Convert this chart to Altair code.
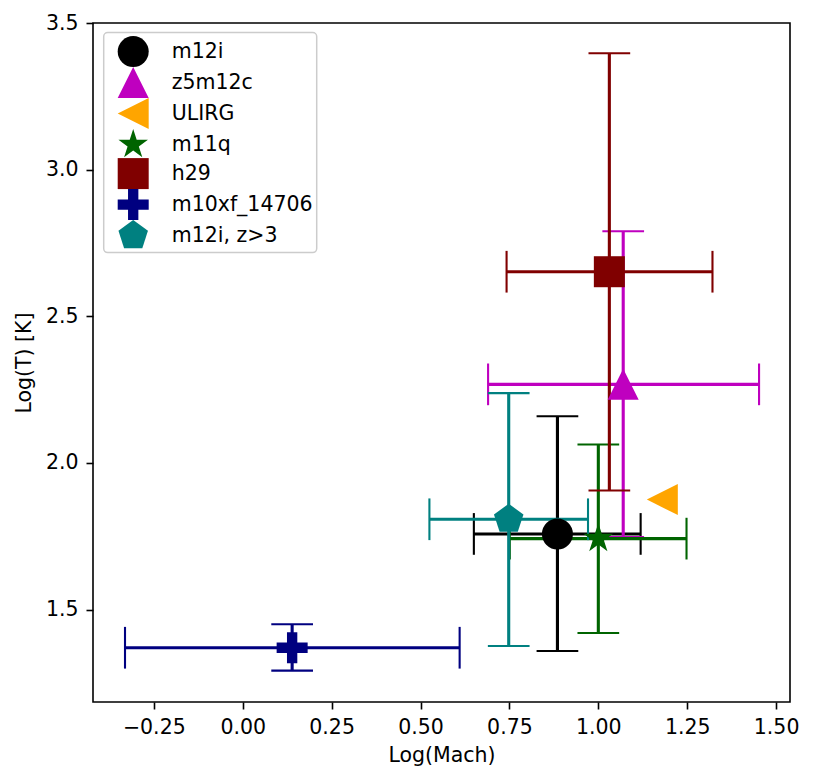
import altair as alt
import pandas as pd

# Simulation runs: Mach number vs. gas temperature (log10), with 1-sigma spreads
names = ["m12i", "z5m12c", "ULIRG", "m11q", "h29", "m10xf_14706", "m12i, z>3"]
colors = ["black", "#bf00bf", "orange", "darkgreen", "maroon", "navy", "teal"]
log_mach = [0.885, 1.070, 1.180, 1.000, 1.031, 0.139, 0.748]
log_temp = [1.758, 2.268, 1.875, 1.742, 2.652, 1.370, 1.808]
mach_lo = [0.650, 0.690, None, 0.751, 0.742, -0.331, 0.525]
mach_hi = [1.119, 1.452, None, 1.248, 1.321, 0.610, 0.971]
temp_lo = [1.359, 1.747, None, 1.420, 1.906, 1.292, 1.376]
temp_hi = [2.159, 2.790, None, 2.063, 3.397, 1.450, 2.238]

x_ticks = [-0.25, 0.0, 0.25, 0.5, 0.75, 1.0, 1.25, 1.5]
y_ticks = [1.5, 2.0, 2.5, 3.0, 3.5]

# marker outlines in unit coordinates (matplotlib-style o ^ < * s P p)
STAR = ("M0,-1L-0.2245,-0.309L-0.9511,-0.309L-0.3633,0.118L-0.5878,0.809"
        "L0,0.382L0.5878,0.809L0.3633,0.118L0.9511,-0.309L0.2245,-0.309Z")
PENTAGON = "M0,-1L-0.9511,-0.309L-0.5878,0.809L0.5878,0.809L0.9511,-0.309Z"
PLUS = ("M-0.3333,-1L0.3333,-1L0.3333,-0.3333L1,-0.3333L1,0.3333L0.3333,0.3333"
        "L0.3333,1L-0.3333,1L-0.3333,0.3333L-1,0.3333L-1,-0.3333L-0.3333,-0.3333Z")
shapes = ["circle", "M0,-1L1,1L-1,1Z", "M-1,0L1,-1L1,1Z", STAR, "square", PLUS, PENTAGON]

FONT = "DejaVu Sans"
FS = 20.5
MARKER = 961      # px^2 -> ~31 px markers
LINE_W = 3.1
CAP_W = 2.1
CAP_LEN = 41.7

xs = alt.Scale(domain=[-0.421, 1.539], nice=False, zero=False)
ys = alt.Scale(domain=[1.185, 3.5], nice=False, zero=False)

x_axis = alt.Axis(
    values=x_ticks, format=".2f", title="Log(Mach)", grid=False, domain=False,
    tickSize=7, tickWidth=1.6, tickColor="black", labelPadding=8,
    labelFlush=False, labelOverlap=False,
    titleBaseline="alphabetic", titleY=59.5, titleX=348.5,
)
y_axis = alt.Axis(
    values=y_ticks, format=".1f", title="Log(T) [K]", grid=False, domain=False,
    tickSize=7, tickWidth=1.6, tickColor="black", labelPadding=8,
    labelFlush=False, labelOverlap=False,
    titleAngle=270, titleBaseline="alphabetic", titleAlign="center",
    titleX=-62.8, titleY=339.5,
)

layers = []
for i, name in enumerate(names):
    if mach_lo[i] is None:
        continue
    # horizontal and vertical error segments
    seg = pd.DataFrame({
        "x0": [mach_lo[i], log_mach[i]],
        "x1": [mach_hi[i], log_mach[i]],
        "y0": [log_temp[i], temp_lo[i]],
        "y1": [log_temp[i], temp_hi[i]],
    })
    layers.append(
        alt.Chart(seg).mark_rule(color=colors[i], strokeWidth=LINE_W).encode(
            x=alt.X("x0:Q", scale=xs, axis=x_axis),
            x2="x1:Q",
            y=alt.Y("y0:Q", scale=ys, axis=y_axis),
            y2="y1:Q",
        )
    )
    # caps at the ends of the x spread (vertical ticks)
    xcap = pd.DataFrame({"x": [mach_lo[i], mach_hi[i]], "y": [log_temp[i]] * 2})
    layers.append(
        alt.Chart(xcap).mark_tick(
            orient="vertical", size=CAP_LEN, thickness=CAP_W,
            color=colors[i], opacity=1,
        ).encode(
            x=alt.X("x:Q", scale=xs, axis=x_axis),
            y=alt.Y("y:Q", scale=ys, axis=y_axis),
        )
    )
    # caps at the ends of the temperature spread (horizontal ticks)
    ycap = pd.DataFrame({"x": [log_mach[i]] * 2, "y": [temp_lo[i], temp_hi[i]]})
    layers.append(
        alt.Chart(ycap).mark_tick(
            orient="horizontal", size=CAP_LEN, thickness=CAP_W,
            color=colors[i], opacity=1,
        ).encode(
            x=alt.X("x:Q", scale=xs, axis=x_axis),
            y=alt.Y("y:Q", scale=ys, axis=y_axis),
        )
    )

pts = pd.DataFrame({"name": names, "x": log_mach, "y": log_temp})

legend = alt.Legend(
    title=None, orient="none", legendX=10.7, legendY=9.6,
    padding=3.5, symbolOffset=10.5, labelOffset=23, rowPadding=0,
    symbolSize=MARKER, symbolStrokeWidth=0, labelLimit=400,
)

layers.append(
    alt.Chart(pts).mark_point(filled=True, size=MARKER, opacity=1, strokeWidth=0).encode(
        x=alt.X("x:Q", scale=xs, axis=x_axis),
        y=alt.Y("y:Q", scale=ys, axis=y_axis),
        color=alt.Color("name:N", scale=alt.Scale(domain=names, range=colors), legend=legend),
        shape=alt.Shape("name:N", scale=alt.Scale(domain=names, range=shapes), legend=legend),
    )
)

chart = (
    alt.layer(*layers)
    .properties(
        width=697, height=679,
        autosize=alt.AutoSizeParams(type="none"),
        padding={"left": 93, "top": 23, "right": 27, "bottom": 79},
        background="white",
    )
    .configure(font=FONT)
    .configure_view(stroke="black", strokeWidth=1.6)
    .configure_axis(
        labelFont=FONT, labelFontSize=FS, labelColor="black",
        titleFont=FONT, titleFontSize=FS, titleColor="black", titleFontWeight="normal",
    )
    .configure_legend(
        labelFont=FONT, labelFontSize=FS, labelColor="black",
        strokeColor="#cccccc", strokeWidth=1.5, cornerRadius=4, fillColor="white",
    )
)

chart.save("out.html", embed_options={"renderer": "svg", "actions": False})
